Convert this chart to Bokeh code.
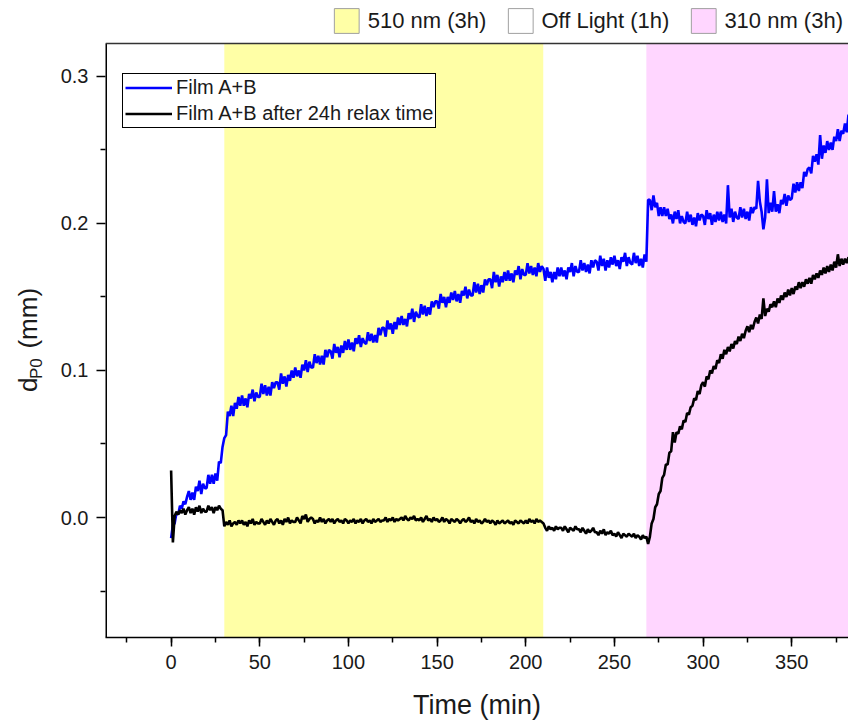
from bokeh.plotting import figure
from bokeh.models import (Range1d, SingleIntervalTicker, FixedTicker, NumeralTickFormatter,
                          Legend, LegendItem, LinearAxis, ColumnDataSource)
from bokeh.embed import file_html
from bokeh.resources import INLINE

# sampling grid (minutes)
time_min = list(range(0, 383))

# Film A+B (mm), 1-min steps
film_ab = [
    -0.014, -0.005, -0.004, 0.003, 0.002, 0.008, 0.006, 0.011, 0.009, 0.014,
    0.018, 0.012, 0.017, 0.012, 0.021, 0.018, 0.025, 0.016, 0.023, 0.020,
    0.020, 0.029, 0.023, 0.029, 0.023, 0.030, 0.025, 0.038, 0.037, 0.048,
    0.054, 0.056, 0.072, 0.069, 0.076, 0.069, 0.078, 0.074, 0.082, 0.076,
    0.083, 0.076, 0.081, 0.075, 0.084, 0.081, 0.087, 0.079, 0.085, 0.082,
    0.082, 0.091, 0.084, 0.090, 0.083, 0.089, 0.083, 0.092, 0.088, 0.092,
    0.092, 0.087, 0.098, 0.091, 0.096, 0.089, 0.097, 0.093, 0.100, 0.095,
    0.102, 0.096, 0.100, 0.095, 0.104, 0.100, 0.107, 0.099, 0.106, 0.102,
    0.102, 0.111, 0.105, 0.110, 0.104, 0.110, 0.104, 0.114, 0.109, 0.114,
    0.113, 0.108, 0.118, 0.112, 0.116, 0.109, 0.117, 0.112, 0.120, 0.114,
    0.121, 0.114, 0.119, 0.113, 0.122, 0.118, 0.124, 0.116, 0.122, 0.119,
    0.118, 0.126, 0.120, 0.125, 0.119, 0.124, 0.119, 0.129, 0.124, 0.129,
    0.129, 0.123, 0.134, 0.128, 0.132, 0.125, 0.133, 0.128, 0.136, 0.131,
    0.137, 0.131, 0.135, 0.130, 0.139, 0.135, 0.142, 0.133, 0.140, 0.137,
    0.136, 0.145, 0.138, 0.144, 0.137, 0.143, 0.138, 0.147, 0.143, 0.147,
    0.147, 0.142, 0.152, 0.146, 0.150, 0.143, 0.150, 0.146, 0.153, 0.148,
    0.154, 0.147, 0.152, 0.146, 0.154, 0.151, 0.157, 0.149, 0.155, 0.151,
    0.151, 0.160, 0.153, 0.159, 0.152, 0.158, 0.153, 0.162, 0.158, 0.162,
    0.162, 0.156, 0.167, 0.160, 0.165, 0.157, 0.164, 0.160, 0.167, 0.161,
    0.168, 0.161, 0.166, 0.160, 0.168, 0.165, 0.171, 0.162, 0.169, 0.165,
    0.165, 0.173, 0.166, 0.171, 0.165, 0.170, 0.164, 0.173, 0.167, 0.171,
    0.169, 0.161, 0.170, 0.163, 0.167, 0.160, 0.167, 0.162, 0.170, 0.164,
    0.170, 0.164, 0.168, 0.162, 0.170, 0.167, 0.173, 0.164, 0.171, 0.167,
    0.167, 0.175, 0.168, 0.173, 0.167, 0.172, 0.166, 0.175, 0.170, 0.175,
    0.174, 0.168, 0.178, 0.171, 0.176, 0.168, 0.175, 0.170, 0.177, 0.172,
    0.178, 0.171, 0.175, 0.169, 0.177, 0.174, 0.180, 0.171, 0.177, 0.173,
    0.172, 0.180, 0.173, 0.178, 0.171, 0.176, 0.170, 0.179, 0.174, 0.216,
    0.216, 0.209, 0.219, 0.211, 0.214, 0.205, 0.211, 0.205, 0.211, 0.205,
    0.210, 0.203, 0.206, 0.200, 0.208, 0.203, 0.209, 0.200, 0.205, 0.201,
    0.200, 0.208, 0.201, 0.206, 0.199, 0.204, 0.198, 0.207, 0.202, 0.206,
    0.205, 0.199, 0.209, 0.203, 0.207, 0.199, 0.206, 0.201, 0.208, 0.202,
    0.208, 0.201, 0.206, 0.200, 0.226, 0.204, 0.210, 0.201, 0.208, 0.204,
    0.203, 0.211, 0.204, 0.210, 0.203, 0.208, 0.202, 0.211, 0.207, 0.211,
    0.210, 0.229, 0.215, 0.208, 0.196, 0.204, 0.230, 0.207, 0.214, 0.208,
    0.222, 0.208, 0.213, 0.207, 0.216, 0.213, 0.220, 0.212, 0.219, 0.216,
    0.217, 0.227, 0.221, 0.228, 0.222, 0.228, 0.224, 0.235, 0.232, 0.237,
    0.238, 0.234, 0.246, 0.242, 0.247, 0.240, 0.260, 0.244, 0.253, 0.248,
    0.256, 0.250, 0.255, 0.250, 0.259, 0.256, 0.264, 0.256, 0.263, 0.261,
    0.268, 0.262, 0.274,
]

# Film A+B after 24h relax time (mm)
film_ab_relaxed = [
    0.032, -0.017, 0.001, 0.004, 0.002, 0.005, 0.003, 0.006, 0.002, 0.005,
    0.007, 0.003, 0.006, 0.002, 0.007, 0.004, 0.008, 0.003, 0.006, 0.004,
    0.004, 0.008, 0.005, 0.007, 0.003, 0.007, 0.005, 0.008, 0.006, 0.005,
    -0.006, -0.003, -0.005, -0.002, -0.006, -0.004, -0.003, -0.005, -0.002, -0.004,
    -0.002, -0.005, -0.003, -0.006, -0.002, -0.004, -0.001, -0.005, -0.003, -0.004,
    -0.004, -0.001, -0.003, -0.005, -0.002, -0.004, -0.001, -0.003, -0.005, -0.002,
    -0.001, -0.004, -0.002, -0.005, -0.001, -0.003, 0.000, -0.004, -0.002, -0.003,
    -0.003, 0.000, -0.002, -0.004, 0.001, -0.001, 0.002, -0.003, -0.001, 0.000,
    -0.001, -0.004, -0.002, -0.003, 0.000, -0.003, -0.001, -0.004, -0.002, -0.001,
    -0.003, -0.001, -0.004, -0.002, -0.001, -0.003, -0.002, -0.004, -0.001, -0.002,
    -0.004, -0.002, -0.003, -0.001, -0.004, -0.002, -0.003, -0.001, -0.004, -0.002,
    -0.001, -0.003, -0.002, -0.004, -0.001, -0.003, -0.002, -0.001, -0.003, -0.002,
    -0.002, 0.000, -0.003, -0.001, -0.002, 0.000, -0.003, -0.001, -0.002, -0.001,
    0.000, -0.002, 0.001, -0.001, -0.002, 0.000, -0.001, 0.001, -0.002, -0.001,
    -0.002, 0.000, -0.003, -0.001, 0.001, -0.002, -0.001, -0.003, 0.000, -0.002,
    -0.001, -0.003, -0.002, 0.000, -0.003, -0.001, -0.002, -0.004, -0.001, -0.002,
    -0.003, -0.001, -0.002, -0.004, -0.002, -0.001, -0.003, -0.002, 0.000, -0.003,
    -0.002, -0.004, -0.001, -0.003, -0.002, -0.004, -0.003, -0.001, -0.003, -0.002,
    -0.004, -0.002, -0.003, -0.005, -0.002, -0.004, -0.003, -0.002, -0.004, -0.003,
    -0.002, -0.004, -0.003, -0.005, -0.002, -0.003, -0.004, -0.002, -0.003, -0.004,
    -0.002, -0.004, -0.001, -0.003, -0.002, -0.004, -0.001, -0.003, -0.002, -0.003,
    -0.004, -0.007, -0.009, -0.006, -0.008, -0.007, -0.009, -0.006, -0.008, -0.007,
    -0.007, -0.009, -0.006, -0.008, -0.010, -0.007, -0.008, -0.009, -0.006, -0.008,
    -0.008, -0.010, -0.007, -0.009, -0.011, -0.008, -0.010, -0.009, -0.007, -0.010,
    -0.010, -0.012, -0.009, -0.011, -0.008, -0.012, -0.010, -0.011, -0.009, -0.012,
    -0.011, -0.013, -0.010, -0.012, -0.014, -0.011, -0.012, -0.013, -0.011, -0.012,
    -0.013, -0.011, -0.014, -0.012, -0.013, -0.015, -0.012, -0.014, -0.013, -0.018,
    -0.013, -0.004, -0.001, 0.007, 0.009, 0.016, 0.018, 0.027, 0.029, 0.036,
    0.036, 0.044, 0.045, 0.058, 0.051, 0.058, 0.057, 0.062, 0.060, 0.066,
    0.065, 0.071, 0.070, 0.075, 0.076, 0.081, 0.080, 0.086, 0.084, 0.090,
    0.092, 0.089, 0.096, 0.094, 0.100, 0.098, 0.103, 0.101, 0.107, 0.105,
    0.111, 0.108, 0.114, 0.111, 0.116, 0.113, 0.118, 0.115, 0.120, 0.118,
    0.123, 0.120, 0.125, 0.122, 0.127, 0.130, 0.126, 0.131, 0.128, 0.133,
    0.136, 0.132, 0.138, 0.135, 0.149, 0.137, 0.142, 0.140, 0.145, 0.143,
    0.147, 0.143, 0.149, 0.146, 0.151, 0.148, 0.153, 0.150, 0.155, 0.151,
    0.156, 0.152, 0.157, 0.155, 0.160, 0.156, 0.160, 0.157, 0.162, 0.159,
    0.163, 0.159, 0.165, 0.162, 0.166, 0.163, 0.168, 0.165, 0.170, 0.166,
    0.171, 0.167, 0.172, 0.168, 0.174, 0.170, 0.179, 0.171, 0.176, 0.172,
    0.176, 0.173, 0.177,
]

series_labels = ["Film A+B", "Film A+B after 24h relax time"]
series_colors = ["#0000FF", "#000000"]

# illumination phases (minutes)
phase_labels = ["510 nm (3h)", "Off Light (1h)", "310 nm (3h)"]
phase_start = [30, 210, 268]
phase_end = [210, 268, 382]
phase_colors = ["#FFFFA6", "#FFFFFF", "#FFD6FF"]

y_ticks = [0.0, 0.1, 0.2, 0.3]
y_minor_ticks = [-0.05, 0.05, 0.15, 0.25]

# plot box limits; the frame also holds the phase key above the box
x_start, x_end = -37, 382
y_start, y_box_top = -0.0816, 0.3224
y_frame_top = 0.3516

FONT = "Liberation Sans"
TXT = "#1a1a1a"
NBSP = "\u00a0"
ENSP = "\u2002"

p = figure(width=848, height=726, x_range=Range1d(x_start, x_end), y_range=Range1d(y_start, y_frame_top),
           output_backend="svg", toolbar_location=None, title=None,
           min_border_left=105, min_border_right=0, min_border_top=0, min_border_bottom=89)
p.xgrid.visible = False
p.ygrid.visible = False
p.outline_line_color = None
p.background_fill_color = "white"

# shaded phases
shade_src = ColumnDataSource(dict(l=phase_start, r=phase_end, c=phase_colors,
                                  b=[y_start] * 3, t=[y_box_top] * 3))
p.quad(left="l", right="r", bottom="b", top="t", fill_color="c", line_color=None, source=shade_src)

src = ColumnDataSource(dict(t=time_min, a=film_ab, b=film_ab_relaxed))
r_blue = p.line("t", "a", source=src, line_color=series_colors[0], line_width=2.6)
r_black = p.line("t", "b", source=src, line_color=series_colors[1], line_width=2.6)

# left and top edges of the plot box (left edge sits on the frame edge, half of it is clipped)
p.segment(x0=[x_start, x_start], y0=[y_start, y_box_top], x1=[x_start, x_end], y1=[y_box_top, y_box_top],
          line_color=["black", "#333333"], line_width=[3, 1.5])

# axes
for ax in (p.xaxis[0], p.yaxis[0]):
    ax.axis_line_color = "black"
    ax.axis_line_width = 1.5
    ax.major_tick_line_color = "black"
    ax.major_tick_line_width = 1.5
    ax.minor_tick_line_color = "black"
    ax.minor_tick_line_width = 1.5
    ax.major_tick_in = 0
    ax.major_tick_out = 9
    ax.minor_tick_in = 0
    ax.minor_tick_out = 5
    ax.major_label_text_font = FONT
    ax.major_label_text_font_size = "20px"
    ax.major_label_text_color = TXT
    ax.major_label_standoff = 8
p.yaxis.axis_line_alpha = 0

p.xaxis.ticker = SingleIntervalTicker(interval=50, num_minor_ticks=2)
p.yaxis.ticker = FixedTicker(ticks=y_ticks, minor_ticks=y_minor_ticks)
p.yaxis.formatter = NumeralTickFormatter(format="0.0")

p.xaxis.axis_label = "Time (min)"
p.xaxis.axis_label_text_font = FONT
p.xaxis.axis_label_text_font_size = "27px"
p.xaxis.axis_label_text_font_style = "normal"
p.xaxis.axis_label_text_color = TXT
p.xaxis.axis_label_standoff = 18


# y-axis title "d_P0 (mm)": subscript and main text on two label-only axes
def label_axis(text, size, standoff):
    return LinearAxis(ticker=FixedTicker(ticks=[]), axis_label=text,
                      axis_label_text_font=FONT, axis_label_text_font_size=size,
                      axis_label_text_font_style="normal", axis_label_text_color=TXT,
                      axis_label_standoff=standoff, axis_line_alpha=0,
                      major_tick_in=0, major_tick_out=0, minor_tick_in=0, minor_tick_out=0,
                      major_label_text_alpha=0)


p.add_layout(label_axis("P0" + NBSP * 21, "17px", 12), "left")
p.add_layout(label_axis("d" + NBSP * 4 + "(mm)" + NBSP * 4 + ENSP, "26px", -19), "left")

# series legend inside the plot
inner = Legend(items=[LegendItem(label=series_labels[0], renderers=[r_blue]),
                      LegendItem(label=series_labels[1], renderers=[r_black])],
               location=(17, 509), orientation="vertical",
               border_line_color="black", border_line_width=1.5, border_line_alpha=1,
               background_fill_color="white", background_fill_alpha=1,
               padding=2, spacing=3, margin=0,
               glyph_width=47, glyph_height=23, label_height=23, label_standoff=4,
               label_text_font=FONT, label_text_font_size="20px", label_text_color=TXT)
p.add_layout(inner)

# phase key above the plot box (key swatches are hidden renderers of the phases)
key_renderers = []
for s, e, c in zip(phase_start, phase_end, phase_colors):
    rr = p.quad(left=[s], right=[e], bottom=[y_start], top=[y_box_top],
                fill_color=c, line_color="#a0a0a0", line_width=1)
    rr.visible = False
    key_renderers.append(rr)
top = Legend(items=[LegendItem(label=l, renderers=[r]) for l, r in zip(phase_labels, key_renderers)],
             location="top_right", orientation="horizontal",
             border_line_alpha=0, background_fill_alpha=0,
             padding=0, spacing=18, margin=5,
             glyph_width=31, glyph_height=31, label_height=31, label_standoff=6,
             label_text_font=FONT, label_text_font_size="22px", label_text_color=TXT)
p.add_layout(top)

open("out.html", "w").write(file_html(p, INLINE))
